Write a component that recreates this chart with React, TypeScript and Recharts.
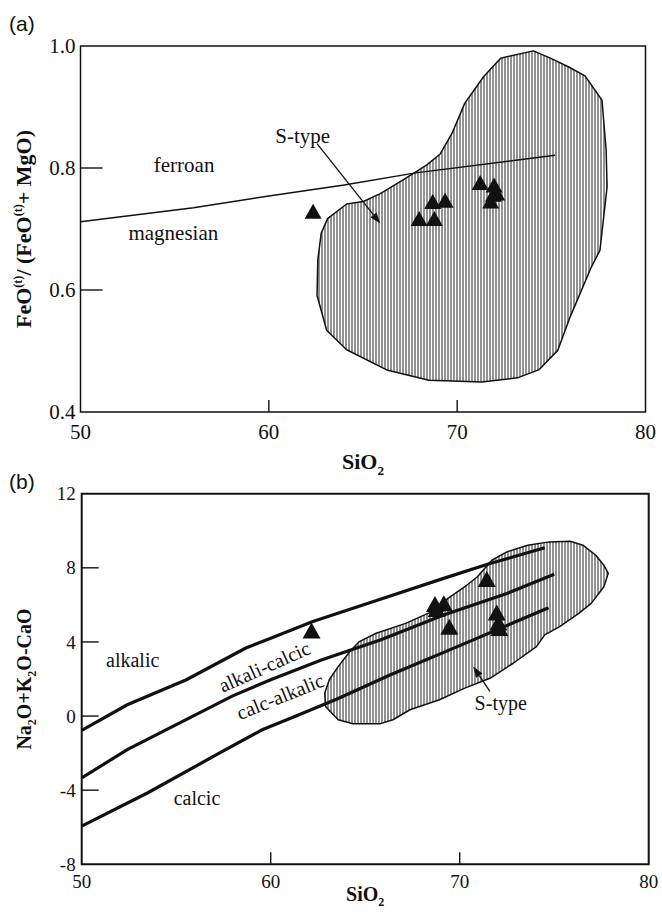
import React from 'react';
import {
  ScatterChart,
  Scatter,
  XAxis,
  YAxis,
  ReferenceArea,
  ReferenceDot,
  Label,
} from 'recharts';

const SERIF = '"Liberation Serif", "Times New Roman", Times, serif';
const SANS = '"Liberation Sans", Arial, Helvetica, sans-serif';
const INK = '#111';

// ---- (a) FeO(t)/(FeO(t)+MgO) vs SiO2 ----
const SIO2_TICKS = [50, 60, 70, 80];
const FE_TICKS = [0.4, 0.6, 0.8, 1.0];

const SAMPLE_SIO2_A = [62.35, 67.98, 68.79, 68.7, 69.36, 71.22, 71.96, 71.92, 72.1, 71.78];
const SAMPLE_FE_A = [0.725, 0.713, 0.713, 0.741, 0.743, 0.772, 0.768, 0.753, 0.755, 0.742];

// ferroan / magnesian divide
const DIVIDE_SIO2 = [50, 56, 60, 64, 67.8, 75.2];
const DIVIDE_FE = [0.712, 0.735, 0.754, 0.772, 0.792, 0.821];

// S-type granite field
const STYPE_A_SIO2 = [
  74.04, 74.89, 75.9, 76.79, 77.69, 77.91, 77.96, 77.8, 77.58, 77.13, 76.0, 75.34,
  74.33, 73.2, 71.3, 68.5, 66.26, 64.13, 63.07, 62.56, 62.6, 62.78, 63.12, 64.13,
  65.02, 65.92, 66.93, 67.83, 68.39, 69.1, 69.73, 70.4, 71.41, 72.31,
];
const STYPE_A_FE = [
  0.992, 0.981, 0.966, 0.951, 0.911, 0.829, 0.769, 0.725, 0.665, 0.638, 0.556, 0.501,
  0.469, 0.456, 0.449, 0.452, 0.469, 0.502, 0.534, 0.591, 0.649, 0.693, 0.717, 0.741,
  0.745, 0.758, 0.777, 0.794, 0.805, 0.823, 0.857, 0.906, 0.95, 0.98,
];

// leader from the "S-type" note into the field
const POINTER_A_SIO2 = [62.56, 65.92];
const POINTER_A_FE = [0.84, 0.709];

// ---- (b) MALI (Na2O+K2O-CaO) vs SiO2 ----
const MALI_TICKS = [-8, -4, 0, 4, 8, 12];

const SAMPLE_SIO2_B = [62.16, 68.69, 69.16, 68.78, 69.45, 71.43, 71.96, 72.1, 72.05];
const SAMPLE_MALI_B = [4.47, 5.9, 5.94, 5.63, 4.68, 7.25, 5.45, 4.61, 4.9];

const ALKALIC_SIO2 = [50, 52.41, 55.54, 58.66, 60.0, 62.23, 65.8, 69.15, 71.6, 74.5];
const ALKALIC_MALI = [-0.77, 0.61, 1.96, 3.66, 4.2, 5.1, 6.3, 7.43, 8.23, 9.08];

const ALKCALC_SIO2 = [50, 52.41, 57.99, 60.0, 62.68, 65.8, 69.15, 72.5, 75.0];
const ALKCALC_MALI = [-3.34, -1.81, 1.09, 1.96, 3.03, 4.11, 5.45, 6.62, 7.65];

const CALCALK_SIO2 = [50, 53.5, 57.3, 59.55, 61.34, 63.57, 66.31, 70.0, 74.7];
const CALCALK_MALI = [-5.94, -4.14, -1.99, -0.74, 0.0, 0.95, 2.22, 3.8, 5.85];

const STYPE_B_SIO2 = [
  62.86, 62.9, 63.57, 64.35, 65.8, 66.47, 67.37, 68.93, 70.27, 71.6, 72.83, 74.06,
  74.5, 75.29, 76.3, 76.96, 77.63, 77.86, 77.63, 77.2, 76.52, 75.85, 74.73, 73.6,
  72.5, 71.7, 70.94, 70.27, 69.38, 68.7, 67.14, 65.58, 64.69, 64.2, 63.57, 63.1,
];
const STYPE_B_MALI = [
  1.24, 0.52, -0.2, -0.41, -0.41, -0.2, 0.34, 0.88, 1.51, 2.04, 2.85, 3.75,
  4.38, 4.83, 5.54, 6.08, 6.98, 7.7, 8.14, 8.68, 9.22, 9.43, 9.4, 9.22,
  8.86, 8.41, 7.52, 6.98, 6.35, 5.72, 5.0, 4.47, 4.02, 3.5, 2.67, 1.96,
];

const POINTER_B_SIO2 = [71.6, 70.71];
const POINTER_B_MALI = [1.33, 2.67];

type Pt = { x: number; y: number };
const zip = (xs: number[], ys: number[]): Pt[] => xs.map((x, i) => ({ x, y: ys[i] }));
const same = (a: number, b: number) => Math.abs(a - b) < 1e-6;

const NoDot = () => <g />;

const triangle = (w: number, h: number) => (props: any) => {
  const { cx, cy } = props;
  if (cx == null || cy == null) return <g />;
  const top = cy - (2 * h) / 3;
  const base = cy + h / 3;
  return <polygon points={`${cx},${top} ${cx - w / 2},${base} ${cx + w / 2},${base}`} fill={INK} />;
};

// closed outline with vertical hatching, fed by the scatter's joint line points
const hatched = (id: string) => (props: any) => {
  const pts = (props.points || []).map((p: any) => `${p.x},${p.y}`).join(' ');
  return (
    <g>
      <defs>
        <pattern id={id} width={3} height={8} patternUnits="userSpaceOnUse">
          <rect width={3} height={8} fill="#fff" />
          <line x1={1} y1={0} x2={1} y2={8} stroke="#262626" strokeWidth={1} />
        </pattern>
      </defs>
      <polygon points={pts} fill={`url(#${id})`} stroke={INK} strokeWidth={1.5} strokeLinejoin="round" />
    </g>
  );
};

// two-point scatter line drawn as a leader with a filled head at the last point
const arrowLine = (props: any) => {
  const pts = props.points || [];
  if (pts.length < 2) return <g />;
  const { x: x1, y: y1 } = pts[0];
  const { x: x2, y: y2 } = pts[pts.length - 1];
  const a = Math.atan2(y2 - y1, x2 - x1);
  const len = 11;
  const hw = 3.8;
  const bx = x2 - len * Math.cos(a);
  const by = y2 - len * Math.sin(a);
  const px = -Math.sin(a) * hw;
  const py = Math.cos(a) * hw;
  return (
    <g>
      <line x1={x1} y1={y1} x2={bx} y2={by} stroke={INK} strokeWidth={1.3} />
      <polygon points={`${x2},${y2} ${bx + px},${by + py} ${bx - px},${by - py}`} fill={INK} />
    </g>
  );
};

const note = (text: string, size: number, angle = 0) => (props: any) => (
  <text
    x={props.cx}
    y={props.cy}
    textAnchor="middle"
    dominantBaseline="central"
    fontFamily={SERIF}
    fontSize={size}
    fill={INK}
    transform={angle ? `rotate(${angle}, ${props.cx}, ${props.cy})` : undefined}
  >
    {text}
  </text>
);

// inward tick marks on the left axis, labels outside
const yTick = (inner: number[], len: number, size: number, gap: number, digits: number) => (props: any) => {
  const { x, y, payload } = props;
  const v = payload.value as number;
  return (
    <g>
      {inner.some((t) => same(t, v)) && (
        <line x1={x} y1={y} x2={x + len} y2={y} stroke={INK} strokeWidth={1.4} />
      )}
      <text x={x - gap} y={y} dy="0.35em" textAnchor="end" fontFamily={SERIF} fontSize={size} fill={INK}>
        {v.toFixed(digits)}
      </text>
    </g>
  );
};

const xTick = (inner: number[], len: number, size: number, drop: number) => (props: any) => {
  const { x, y, payload } = props;
  const v = payload.value as number;
  return (
    <g>
      {inner.some((t) => same(t, v)) && (
        <line x1={x} y1={y} x2={x} y2={y - len} stroke={INK} strokeWidth={1.4} />
      )}
      <text x={x} y={y + drop} textAnchor="middle" fontFamily={SERIF} fontSize={size} fill={INK}>
        {v}
      </text>
    </g>
  );
};

const sio2Title = (size: number, drop: number) => (props: any) => {
  const vb = props.viewBox || {};
  return (
    <text
      x={vb.x + vb.width / 2}
      y={vb.y + drop}
      textAnchor="middle"
      fontFamily={SERIF}
      fontWeight="bold"
      fontSize={size}
      fill={INK}
    >
      SiO
      <tspan fontSize={size * 0.6} dy={size * 0.25}>2</tspan>
    </text>
  );
};

const feTitle = (props: any) => {
  const vb = props.viewBox || {};
  const cy = vb.y + vb.height / 2;
  const s = 22;
  return (
    <text
      transform={`translate(${vb.x + 31}, ${cy}) rotate(-90)`}
      textAnchor="middle"
      fontFamily={SERIF}
      fontWeight="bold"
      fontSize={s}
      fill={INK}
    >
      FeO
      <tspan fontSize={s * 0.55} dy={-s * 0.4}>(t)</tspan>
      <tspan dy={s * 0.4}>/ (FeO</tspan>
      <tspan fontSize={s * 0.55} dy={-s * 0.4}>(t)</tspan>
      <tspan dy={s * 0.4}>+ MgO)</tspan>
    </text>
  );
};

const maliTitle = (props: any) => {
  const vb = props.viewBox || {};
  const cy = vb.y + vb.height / 2;
  const s = 20;
  return (
    <text
      transform={`translate(${vb.x + 31}, ${cy}) rotate(-90)`}
      textAnchor="middle"
      fontFamily={SERIF}
      fontWeight="bold"
      fontSize={s}
      fill={INK}
    >
      Na
      <tspan fontSize={s * 0.6} dy={s * 0.25}>2</tspan>
      <tspan dy={-s * 0.25}>O+K</tspan>
      <tspan fontSize={s * 0.6} dy={s * 0.25}>2</tspan>
      <tspan dy={-s * 0.25}>O-CaO</tspan>
    </text>
  );
};

const FeNumberChart = () => (
  <ScatterChart width={662} height={482} margin={{ top: 46, right: 16.5, bottom: 0, left: 0 }}>
    <XAxis
      dataKey="x"
      type="number"
      domain={[50, 80]}
      ticks={SIO2_TICKS}
      interval={0}
      allowDataOverflow
      axisLine={false}
      tickLine={false}
      tickSize={0}
      tickMargin={0}
      height={70}
      tick={xTick([60, 70], 12, 21, 27)}
    >
      <Label content={sio2Title(22, 57)} />
    </XAxis>
    <YAxis
      dataKey="y"
      type="number"
      domain={[0.4, 1.0]}
      ticks={FE_TICKS}
      interval={0}
      allowDataOverflow
      axisLine={false}
      tickLine={false}
      tickSize={0}
      tickMargin={0}
      width={80.5}
      tick={yTick([0.6, 0.8], 22, 21, 5, 1)}
    >
      <Label content={feTitle} />
    </YAxis>
    <ReferenceArea x1={50} x2={80} y1={0.4} y2={1.0} fill="none" stroke={INK} strokeWidth={1.5} ifOverflow="visible" />
    <Scatter
      data={zip(STYPE_A_SIO2, STYPE_A_FE)}
      line={hatched('hatch-a')}
      lineType="joint"
      shape={NoDot}
      isAnimationActive={false}
    />
    <Scatter
      data={zip(DIVIDE_SIO2, DIVIDE_FE)}
      line={{ stroke: INK, strokeWidth: 1.5 }}
      lineType="joint"
      shape={NoDot}
      isAnimationActive={false}
    />
    <Scatter
      data={zip(POINTER_A_SIO2, POINTER_A_FE)}
      line={arrowLine}
      lineType="joint"
      shape={NoDot}
      isAnimationActive={false}
    />
    <Scatter data={zip(SAMPLE_SIO2_A, SAMPLE_FE_A)} shape={triangle(17, 15)} isAnimationActive={false} />
    <ReferenceDot x={55.5} y={0.805} r={1} shape={note('ferroan', 21)} />
    <ReferenceDot x={54.93} y={0.694} r={1} shape={note('magnesian', 21)} />
    <ReferenceDot x={61.8} y={0.852} r={1} shape={note('S-type', 21)} />
  </ScatterChart>
);

const MaliChart = () => (
  <ScatterChart width={662} height={441} margin={{ top: 18.7, right: 13.3, bottom: 0, left: 0 }}>
    <XAxis
      dataKey="x"
      type="number"
      domain={[50, 80]}
      ticks={SIO2_TICKS}
      interval={0}
      allowDataOverflow
      axisLine={false}
      tickLine={false}
      tickSize={0}
      tickMargin={0}
      height={51.7}
      tick={xTick([60, 70], 12, 19, 24)}
    >
      <Label content={sio2Title(20, 37)} />
    </XAxis>
    <YAxis
      dataKey="y"
      type="number"
      domain={[-8, 12]}
      ticks={MALI_TICKS}
      interval={0}
      allowDataOverflow
      axisLine={false}
      tickLine={false}
      tickSize={0}
      tickMargin={0}
      width={81.7}
      tick={yTick([-4, 0, 4, 8], 17, 19, 6, 0)}
    >
      <Label content={maliTitle} />
    </YAxis>
    <ReferenceArea x1={50} x2={80} y1={-8} y2={12} fill="none" stroke={INK} strokeWidth={2} ifOverflow="visible" />
    <Scatter
      data={zip(STYPE_B_SIO2, STYPE_B_MALI)}
      line={hatched('hatch-b')}
      lineType="joint"
      shape={NoDot}
      isAnimationActive={false}
    />
    <Scatter
      data={zip(ALKALIC_SIO2, ALKALIC_MALI)}
      line={{ stroke: INK, strokeWidth: 3.2 }}
      lineType="joint"
      shape={NoDot}
      isAnimationActive={false}
    />
    <Scatter
      data={zip(ALKCALC_SIO2, ALKCALC_MALI)}
      line={{ stroke: INK, strokeWidth: 3.2 }}
      lineType="joint"
      shape={NoDot}
      isAnimationActive={false}
    />
    <Scatter
      data={zip(CALCALK_SIO2, CALCALK_MALI)}
      line={{ stroke: INK, strokeWidth: 3.2 }}
      lineType="joint"
      shape={NoDot}
      isAnimationActive={false}
    />
    <Scatter
      data={zip(POINTER_B_SIO2, POINTER_B_MALI)}
      line={arrowLine}
      lineType="joint"
      shape={NoDot}
      isAnimationActive={false}
    />
    <Scatter data={zip(SAMPLE_SIO2_B, SAMPLE_MALI_B)} shape={triangle(18, 16)} isAnimationActive={false} />
    <ReferenceDot x={52.7} y={3.03} r={1} shape={note('alkalic', 20)} />
    <ReferenceDot x={59.67} y={2.67} r={1} shape={note('alkali-calcic', 20, -24)} />
    <ReferenceDot x={60.5} y={1.06} r={1} shape={note('calc-alkalic', 20, -22)} />
    <ReferenceDot x={56.1} y={-4.41} r={1} shape={note('calcic', 20)} />
    <ReferenceDot x={72.17} y={0.7} r={1} shape={note('S-type', 20)} />
  </ScatterChart>
);

export default function App() {
  return (
    <div style={{ position: 'absolute', left: 0, top: 0, width: 662, height: 916, background: '#fff' }}>
      <div style={{ position: 'absolute', left: 0, top: 0 }}>
        <FeNumberChart />
      </div>
      <div style={{ position: 'absolute', left: 0, top: 475 }}>
        <MaliChart />
      </div>
      <svg width={662} height={916} style={{ position: 'absolute', left: 0, top: 0, pointerEvents: 'none' }}>
        <text x={9} y={31} fontFamily={SANS} fontSize={21} fill={INK}>(a)</text>
        <text x={9} y={489} fontFamily={SANS} fontSize={21} fill={INK}>(b)</text>
      </svg>
    </div>
  );
}
